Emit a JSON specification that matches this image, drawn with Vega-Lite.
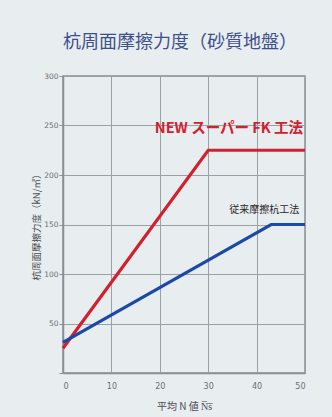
{
  "$schema": "https://vega.github.io/schema/vega-lite/v6.json",
  "autosize": "none",
  "width": 242,
  "height": 297,
  "padding": {"left": 63, "top": 76, "right": 27, "bottom": 44},
  "background": "#e8edf0",
  "title": {
    "text": "杭周面摩擦力度（砂質地盤）",
    "font": "Noto Sans CJK JP",
    "fontSize": 18,
    "fontWeight": "normal",
    "color": "#3e4f8c",
    "anchor": "middle",
    "frame": "group",
    "offset": 20,
    "dx": -4
  },
  "config": {
    "view": {"stroke": "#8a8f94", "strokeWidth": 1.5},
    "axis": {
      "labelFont": "DejaVu Sans",
      "labelFontSize": 7.5,
      "labelColor": "#6a6f74",
      "titleFont": "Noto Sans CJK JP",
      "titleFontSize": 9,
      "titleFontWeight": "normal",
      "titleColor": "#4a4f54",
      "domainColor": "#8a8f94",
      "domainWidth": 1.5,
      "gridColor": "#9aa0a5",
      "gridWidth": 1,
      "gridOpacity": 1,
      "tickColor": "#8a8f94"
    }
  },
  "datasets": {
    "lines": [
      {"ns": 0, "q": 25, "method": "NEW"},
      {"ns": 30, "q": 225, "method": "NEW"},
      {"ns": 50, "q": 225, "method": "NEW"},
      {"ns": 0, "q": 31, "method": "OLD"},
      {"ns": 43, "q": 150, "method": "OLD"},
      {"ns": 50, "q": 150, "method": "OLD"}
    ]
  },
  "layer": [
    {
      "data": {"name": "lines"},
      "mark": {"type": "line", "strokeWidth": 3.2, "clip": false},
      "encoding": {
        "x": {
          "field": "ns", "type": "quantitative",
          "scale": {"domain": [0, 50], "nice": false},
          "axis": {
            "values": [0, 10, 20, 30, 40, 50],
            "tickSize": 0,
            "labelPadding": 9,
            "labelFontSize": 8,
            "title": "平均 N 値   N̅s̅",
            "titleFontSize": 10,
            "titlePadding": 11
          }
        },
        "y": {
          "field": "q", "type": "quantitative",
          "scale": {"domain": [0, 300], "nice": false},
          "axis": {
            "values": [0, 50, 100, 150, 200, 250, 300],
            "tickSize": 4,
            "labelPadding": 1,
            "labelExpr": "datum.value == 0 ? '' : datum.label",
            "title": "杭周面摩擦力度（kN/㎡）",
            "titleFontSize": 9.5,
            "titlePadding": 2
          }
        },
        "color": {
          "field": "method", "type": "nominal",
          "scale": {"domain": ["NEW", "OLD"], "range": ["#d2202e", "#1b4aa6"]},
          "legend": null
        }
      }
    },
    {
      "data": {"values": [{"ns": 49.6, "q": 246, "label": "NEW スーパー FK 工法"}]},
      "mark": {"type": "text", "align": "right", "baseline": "middle", "font": "Noto Sans CJK JP", "fontSize": 14.5, "fontWeight": "bold", "color": "#d2202e"},
      "encoding": {
        "x": {"field": "ns", "type": "quantitative"},
        "y": {"field": "q", "type": "quantitative"},
        "text": {"field": "label"}
      }
    },
    {
      "data": {"values": [{"ns": 48.8, "q": 165, "label": "従来摩擦杭工法"}]},
      "mark": {"type": "text", "align": "right", "baseline": "middle", "font": "Noto Sans CJK JP", "fontSize": 10, "color": "#2a2a2a"},
      "encoding": {
        "x": {"field": "ns", "type": "quantitative"},
        "y": {"field": "q", "type": "quantitative"},
        "text": {"field": "label"}
      }
    }
  ]
}
